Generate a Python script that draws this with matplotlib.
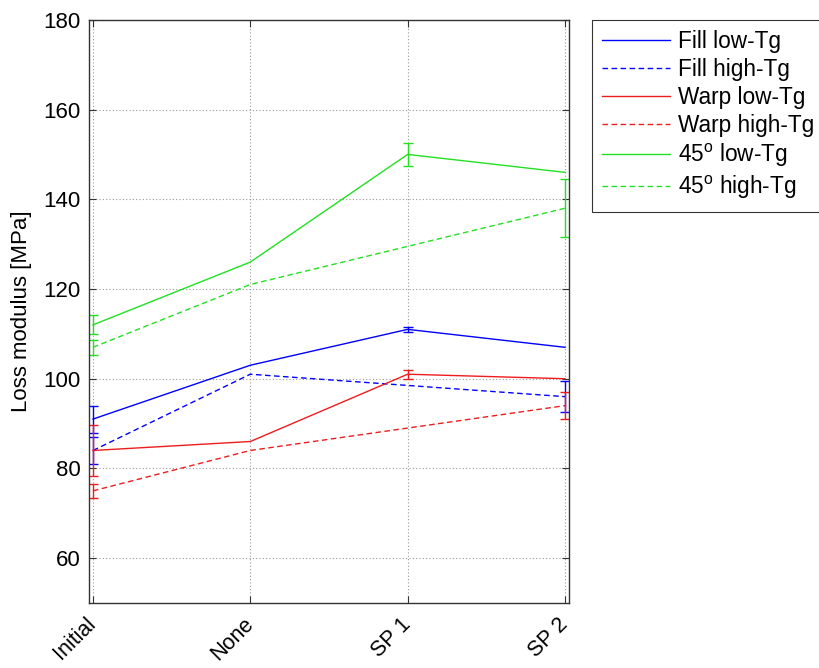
import numpy as np
import matplotlib
matplotlib.use('Agg')
import matplotlib.pyplot as plt
import matplotlib.transforms as mtransforms

plt.rcParams['font.family'] = ['Liberation Sans', 'DejaVu Sans']
plt.rcParams['mathtext.default'] = 'regular'

stages = ['Initial', 'None', 'SP 1', 'SP 2']
# high-Tg samples were not tested at SP 1
stages_high = ['Initial', 'None', 'SP 2']

fill_low = [91, 103, 111, 107]
fill_low_err = [3, 0, 0.5, 0]
fill_high = [84, 101, 96]
fill_high_err = [3, 0, 3.5]

warp_low = [84, 86, 101, 100]
warp_low_err = [5.6, 0, 1, 0]
warp_high = [75, 84, 94]
warp_high_err = [1.5, 0, 3]

d45_low = [112, 126, 150, 146]
d45_low_err = [2.1, 0, 2.5, 0]
d45_high = [107, 121, 138]
d45_high_err = [1.7, 0, 6.5]

blue = '#0000ff'
red = '#ee1c1c'
green = '#22e022'

x_low = np.arange(1, len(stages) + 1)
x_high = np.array([stages.index(s) + 1 for s in stages_high])

fig = plt.figure(figsize=(8.19, 6.68), dpi=100)
ax = fig.add_axes([0.1087, 0.0973, 0.586, 0.873])

series = [
    (x_low, fill_low, fill_low_err, blue, '-', 'Fill low-Tg'),
    (x_high, fill_high, fill_high_err, blue, '--', 'Fill high-Tg'),
    (x_low, warp_low, warp_low_err, red, '-', 'Warp low-Tg'),
    (x_high, warp_high, warp_high_err, red, '--', 'Warp high-Tg'),
    (x_low, d45_low, d45_low_err, green, '-', r'45$^{o}$ low-Tg'),
    (x_high, d45_high, d45_high_err, green, '--', r'45$^{o}$ high-Tg'),
]

handles = []
for xs, ys, errs, col, ls, lab in series:
    ln, = ax.plot(xs, ys, color=col, linestyle=ls, linewidth=1.0,
                  dashes=(4, 2.5) if ls == '--' else (None, None), label=lab)
    handles.append(ln)
    xs_e = [x for x, e in zip(xs, errs) if e > 0]
    ys_e = [y for y, e in zip(ys, errs) if e > 0]
    es = [e for e in errs if e > 0]
    ax.errorbar(xs_e, ys_e, yerr=es, fmt='none', ecolor=col, elinewidth=1.0,
                capsize=3.4, capthick=1.0)

ax.set_xlim(0.975, 4.025)
ax.set_ylim(50, 180)
ax.set_yticks(np.arange(60, 181, 20))
ax.set_xticks(x_low)
ax.set_xticklabels(stages, rotation=45, ha='right', va='center',
                   rotation_mode='anchor', fontsize=15.5)
# nudge rotated labels a little to the right
shift = mtransforms.ScaledTranslation(5 / 100, 0, fig.dpi_scale_trans)
for lbl in ax.get_xticklabels():
    lbl.set_transform(lbl.get_transform() + shift)
ax.tick_params(axis='x', pad=13)
ax.tick_params(axis='y', labelsize=16, pad=6)
ax.tick_params(direction='in', top=True, right=True, length=5, width=0.8,
               color='#333333')
ax.grid(True, linestyle=(0, (1, 2)), color='#999999', linewidth=0.8)
for sp in ax.spines.values():
    sp.set_color('#333333')
    sp.set_linewidth(1.0)

ax.set_ylabel('Loss modulus [MPa]', fontsize=16, labelpad=8)

leg = ax.legend(handles=handles, loc='upper left', bbox_to_anchor=(1.048, 1.0),
                fontsize=16.3, handlelength=3.0, frameon=True, fancybox=False,
                borderaxespad=0, borderpad=0.45, labelspacing=0.22,
                handletextpad=0.35)
leg.get_frame().set_edgecolor('black')
leg.get_frame().set_linewidth(0.8)

fig.savefig('out.png', dpi=100)
